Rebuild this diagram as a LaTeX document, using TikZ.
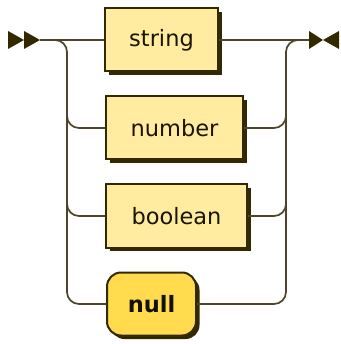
\documentclass[tikz,border=0pt]{standalone}
\usepackage{fontspec}
\setmainfont{DejaVu Sans}
\usetikzlibrary{shadows}
\definecolor{ink}{HTML}{332900}
\definecolor{railc}{HTML}{4F4429}
\definecolor{ntfill}{HTML}{FFECA0}
\definecolor{tfill}{HTML}{FFDB4D}
\definecolor{ntext}{HTML}{1A1400}
\definecolor{ttext}{HTML}{141000}
\tikzset{
  rail/.style={draw=railc, line width=1.7pt},
  boxbase/.style={draw=ink, line width=2pt, minimum height=63pt, inner sep=0pt,
    general shadow={shadow xshift=3.5pt, shadow yshift=-3.5pt, fill=ink},
    font=\fontsize{22.5}{27}\selectfont},
  nonterm/.style={boxbase, rectangle, fill=ntfill, text=ntext},
  term/.style={boxbase, rectangle, rounded corners=14pt, fill=tfill, text=ttext,
    font=\fontsize{22.5}{27}\selectfont\bfseries},
  tip/.style={fill=ink, draw=none}
}
\begin{document}
\begin{tikzpicture}[x=1pt, y=1pt]
  \useasboundingbox (0,0) rectangle (340,-344);

  % alternatives
  \node[nonterm, minimum width=113pt] (s)  at (161.5,-40)  {string};
  \node[nonterm, minimum width=137pt] (n)  at (174.5,-128) {number};
  \node[nonterm, minimum width=141pt] (b)  at (176.5,-216) {boolean};
  \node[term,    minimum width=89pt]  (nl) at (151.5,-304) {null};

  % start and end markers
  \coordinate (start) at (40,-40);
  \coordinate (end) at (309,-40);
  \fill[tip] (8,-31) -- (24,-40) -- (8,-49) -- cycle;
  \fill[tip] (24,-31) -- (start) -- (24,-49) -- cycle;
  \fill[tip] (309,-31) -- (323,-40) -- (309,-49) -- cycle;
  \fill[tip] (339,-31) -- (323,-40) -- (339,-49) -- cycle;

  % left rail
  \draw[rail] (start) -- (s.west);
  \draw[rail, rounded corners=12pt] (start) -| (67,-304) -- (nl.west);
  \draw[rail, rounded corners=12pt] (67,-100) |- (n.west);
  \draw[rail, rounded corners=12pt] (67,-190) |- (b.west);

  % right rail
  \draw[rail] (s.east) -- (end);
  \draw[rail, rounded corners=12pt] (nl.east) -| (286,-40) -- (end);
  \draw[rail, rounded corners=12pt] (n.east) -| (286,-100);
  \draw[rail, rounded corners=12pt] (b.east) -| (286,-190);
\end{tikzpicture}
\end{document}
